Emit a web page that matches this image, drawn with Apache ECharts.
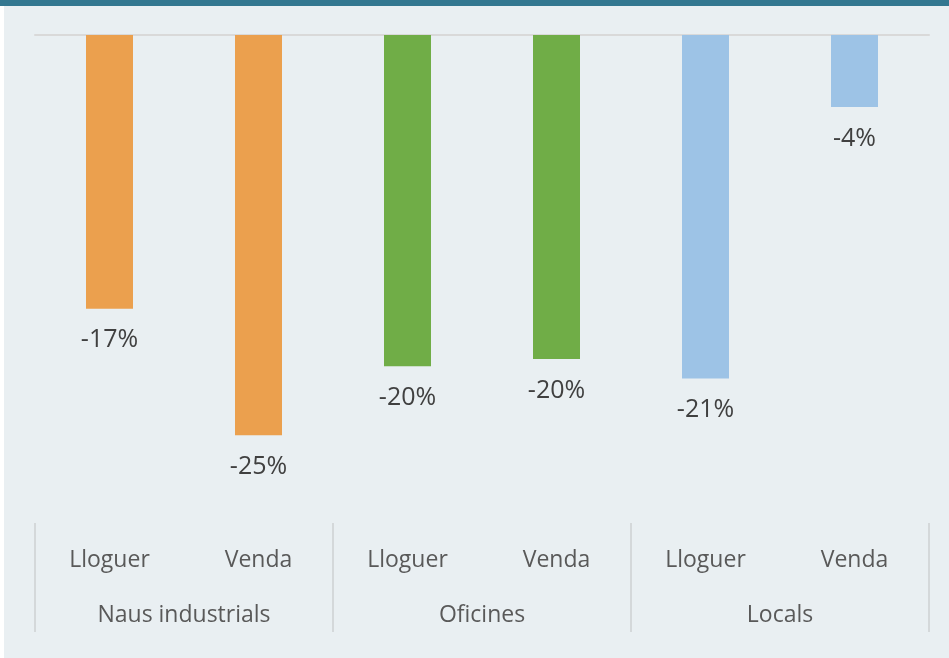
<!DOCTYPE html>
<html>
<head>
<meta charset="utf-8">
<script src="https://cdn.jsdelivr.net/npm/echarts@6/dist/echarts.min.js"></script>
<style>
  html, body { margin: 0; padding: 0; background: #fff; }
  #topbar { position: absolute; left: 0; top: 0; width: 949px; height: 6px; background: #337790; }
  #chart { position: absolute; left: 4px; top: 6px; width: 945px; height: 652px; background: #E9EFF2; }
</style>
</head>
<body>
<div id="topbar"></div>
<div id="chart"></div>
<script>
// dades (variació %)
const subCategories = ['Lloguer', 'Venda', 'Lloguer', 'Venda', 'Lloguer', 'Venda'];
const groups = ['Naus industrials', 'Oficines', 'Locals'];
const values = [-16.9, -24.7, -20.45, -20.0, -21.2, -4.45];
const groupColors = ['#EBA04E', '#70AD47', '#9DC3E6'];

const FONT = '"Open Sans", sans-serif';

const chart = echarts.init(document.getElementById('chart'));
chart.setOption({
  backgroundColor: 'transparent',
  animation: false,
  grid: { left: 31, right: 20, top: 29, height: 486 },
  xAxis: [
    {
      type: 'category',
      data: subCategories,
      position: 'bottom',
      axisLine: { show: false },
      axisTick: { show: false },
      axisLabel: { color: '#595959', fontSize: 23, fontFamily: FONT, margin: 28 }
    },
    {
      type: 'category',
      data: groups,
      position: 'bottom',
      offset: 2,
      axisLine: { show: false },
      axisTick: { show: true, length: 109, lineStyle: { color: '#D4D8DA', width: 2 } },
      axisLabel: { color: '#595959', fontSize: 23, fontFamily: FONT, margin: 81 }
    },
    {
      // línia del zero (a dalt)
      type: 'category',
      data: subCategories,
      position: 'top',
      axisLine: { show: true, lineStyle: { color: '#D9D9D9', width: 2 } },
      axisTick: { show: false },
      axisLabel: { show: false }
    }
  ],
  yAxis: {
    type: 'value',
    min: -30,
    max: 0,
    show: false
  },
  series: [{
    type: 'bar',
    xAxisIndex: 0,
    barWidth: 47,
    data: values.map((v, i) => ({
      value: v,
      itemStyle: { color: groupColors[Math.floor(i / 2)] }
    })),
    label: {
      show: true,
      position: 'bottom',
      distance: 19,
      color: '#404040',
      fontSize: 25,
      fontFamily: FONT,
      formatter: p => Math.round(p.value) + '%'
    }
  }]
});
</script>
</body>
</html>
